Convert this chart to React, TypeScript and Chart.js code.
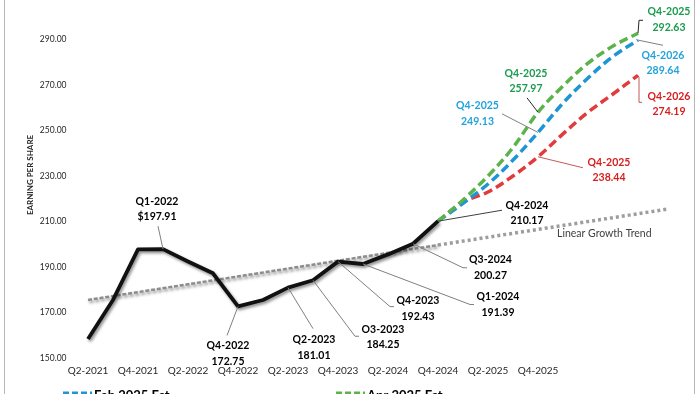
import { useEffect, useRef } from 'react';
import { Chart, registerables } from 'chart.js';

Chart.register(...registerables);

// ---- data ----
const quarters = [
  'Q2-2021', 'Q3-2021', 'Q4-2021', 'Q1-2022', 'Q2-2022', 'Q3-2022', 'Q4-2022',
  'Q1-2023', 'Q2-2023', 'Q3-2023', 'Q4-2023', 'Q1-2024', 'Q2-2024', 'Q3-2024',
  'Q4-2024', 'Q1-2025', 'Q2-2025', 'Q3-2025', 'Q4-2025', 'Q1-2026', 'Q2-2026',
  'Q3-2026', 'Q4-2026',
];
const xTickLabels = [
  'Q2-2021', 'Q4-2021', 'Q2-2022', 'Q4-2022', 'Q2-2023', 'Q4-2023', 'Q2-2024',
  'Q4-2024', 'Q2-2025', 'Q4-2025',
];
const yTicks = [150, 170, 190, 210, 230, 250, 270, 290];

const actualEps = [
  158.5, 175.6, 197.8, 197.91, 192.5, 187.3, 172.75, 175.6, 181.01, 184.25,
  192.43, 191.39, 195.6, 200.27, 210.17,
];
const forecastStart = 14; // Q4-2024
const aprEst = [210.17, 219.5, 230.0, 242.5, 257.97, 269.5, 279.5, 287.0, 292.63];
const febEst = [210.17, 218.0, 226.5, 237.0, 249.13, 262.0, 273.0, 282.5, 289.64];
const lowEst = [210.17, 218.5, 223.0, 230.0, 238.44, 248.5, 258.0, 266.0, 274.19];
const trendPos = [0, 14, 23.2];
const trendEps = [175.6, 199.7, 215.5];

// ---- styles ----
const BLACK = '#111111';
const GREEN = '#5DB34B';
const BLUE = '#1E95D5';
const RED = '#E23B3B';
const GREEN_TXT = '#1A9C4E';
const BLUE_TXT = '#22A3DA';
const RED_TXT = '#D61E1E';
const FONT = 'Lato, "Noto Sans", sans-serif';
const NARROW = '"Liberation Sans Narrow", "Arial Narrow", Lato, sans-serif';

type Series = 'actual' | 'apr' | 'feb' | 'low';
type Note = {
  series: Series;
  q: string;
  lines: string[];
  color: string;
  dx: number;
  dy: number;
  leader: [number, number][];
  leaderColor: string;
};

const notes: Note[] = [
  { series: 'actual', q: 'Q1-2022', lines: ['Q1-2022', '$197.91'], color: '#000', dx: -6, dy: -48, leader: [[-5, -23]], leaderColor: '#7f7f7f' },
  { series: 'actual', q: 'Q4-2022', lines: ['Q4-2022', '172.75'], color: '#000', dx: -10, dy: 39, leader: [[-11, 29]], leaderColor: '#7f7f7f' },
  { series: 'actual', q: 'Q2-2023', lines: ['Q2-2023', '181.01'], color: '#000', dx: 26, dy: 52, leader: [[25, 41]], leaderColor: '#7f7f7f' },
  { series: 'actual', q: 'Q3-2023', lines: ['O3-2023', '184.25'], color: '#000', dx: 70, dy: 49, leader: [[42, 56], [46, 56]], leaderColor: '#7f7f7f' },
  { series: 'actual', q: 'Q4-2023', lines: ['Q4-2023', '192.43'], color: '#000', dx: 80, dy: 39, leader: [[52, 45], [56, 45]], leaderColor: '#7f7f7f' },
  { series: 'actual', q: 'Q1-2024', lines: ['Q1-2024', '191.39'], color: '#000', dx: 135, dy: 32.5, leader: [[107, 40.5], [111, 40.5]], leaderColor: '#7f7f7f' },
  { series: 'actual', q: 'Q3-2024', lines: ['Q3-2024', '200.27'], color: '#000', dx: 77.5, dy: 16, leader: [[50, 24], [54, 24]], leaderColor: '#7f7f7f' },
  { series: 'actual', q: 'Q4-2024', lines: ['Q4-2024', '210.17'], color: '#000', dx: 89, dy: -16, leader: [[64, -11]], leaderColor: '#404040' },
  { series: 'low', q: 'Q4-2025', lines: ['Q4-2025', '238.44'], color: RED_TXT, dx: 71, dy: 5.5, leader: [[45, 11]], leaderColor: '#c05a5a' },
  { series: 'feb', q: 'Q4-2025', lines: ['Q4-2025', '249.13'], color: BLUE_TXT, dx: -60.5, dy: -26.6, leader: [[-36, -18.6]], leaderColor: '#7f7f7f' },
  { series: 'apr', q: 'Q4-2025', lines: ['Q4-2025', '257.97'], color: GREEN_TXT, dx: -12, dy: -39, leader: [[-11, -14.4]], leaderColor: '#262626' },
  { series: 'apr', q: 'Q4-2026', lines: ['Q4-2025', '292.63'], color: GREEN_TXT, dx: 31, dy: -21.7, leader: [[1, -13], [5, -13]], leaderColor: '#262626' },
  { series: 'feb', q: 'Q4-2026', lines: ['Q4-2026', '289.64'], color: BLUE_TXT, dx: 25, dy: 15.2, leader: [[25, 5.2]], leaderColor: '#7f7f7f' },
  { series: 'low', q: 'Q4-2026', lines: ['Q4-2026', '274.19'], color: RED_TXT, dx: 31, dy: 21, leader: [[1, 2], [1, 27], [4, 27]], leaderColor: '#c05a5a' },
];

const legendItems = [
  { text: 'Feb 2025 Est', color: BLUE, x: 63 },
  { text: 'Apr 2025 Est', color: GREEN, x: 336 },
];

function valueOf(series: Series, q: string): [number, number] {
  const i = quarters.indexOf(q);
  if (series === 'actual') return [i, actualEps[i]];
  const arr = series === 'apr' ? aprEst : series === 'feb' ? febEst : lowEst;
  return [i, arr[i - forecastStart]];
}

const overlayPlugin = {
  id: 'overlay',
  beforeDatasetDraw(chart: any, args: any) {
    const ds = chart.data.datasets[args.index];
    if (ds.shadow) {
      const ctx = chart.ctx;
      ctx.save();
      ctx.shadowColor = 'rgba(0,0,0,0.45)';
      ctx.shadowBlur = 3;
      ctx.shadowOffsetX = 1.5;
      ctx.shadowOffsetY = 2;
    }
  },
  afterDatasetDraw(chart: any, args: any) {
    const ds = chart.data.datasets[args.index];
    if (ds.shadow) chart.ctx.restore();
  },
  afterDraw(chart: any) {
    const ctx = chart.ctx;
    const xs = chart.scales.x;
    const ys = chart.scales.y;
    ctx.save();
    // chart outline (left/right edges)
    ctx.strokeStyle = '#b7b7b7';
    ctx.lineWidth = 1;
    ctx.beginPath();
    ctx.moveTo(4.5, 0);
    ctx.lineTo(4.5, chart.height);
    ctx.moveTo(694.5, 0);
    ctx.lineTo(694.5, chart.height);
    ctx.stroke();

    // y axis title
    ctx.save();
    ctx.translate(30, 175);
    ctx.rotate(-Math.PI / 2);
    ctx.font = `bold 8px ${FONT}`;
    ctx.fillStyle = '#262626';
    ctx.textAlign = 'center';
    ctx.textBaseline = 'middle';
    ctx.fillText('EARNING PER SHARE', 0, 0);
    ctx.restore();

    // trend label
    ctx.font = `10.5px ${FONT}`;
    ctx.fillStyle = '#404040';
    ctx.textAlign = 'left';
    ctx.textBaseline = 'middle';
    const tx = xs.getPixelForValue(trendPos[2]);
    const ty = ys.getPixelForValue(trendEps[2]);
    ctx.fillText('Linear Growth Trend', tx - 111, ty + 25);

    // data labels
    for (const n of notes) {
      const [xi, v] = valueOf(n.series, n.q);
      const px = xs.getPixelForValue(xi);
      const py = ys.getPixelForValue(v);
      ctx.strokeStyle = n.leaderColor;
      ctx.lineWidth = 1;
      ctx.beginPath();
      ctx.moveTo(px, py);
      for (const [lx, ly] of n.leader) ctx.lineTo(px + lx, py + ly);
      ctx.stroke();
      ctx.font = `bold 10.5px ${FONT}`;
      ctx.fillStyle = n.color;
      ctx.textAlign = 'center';
      ctx.textBaseline = 'middle';
      n.lines.forEach((t, k) => ctx.fillText(t, px + n.dx, py + n.dy + k * 15.7));
    }

    // legend (bottom, partly cut off)
    for (const it of legendItems) {
      ctx.strokeStyle = it.color;
      ctx.lineWidth = 3;
      ctx.setLineDash([6, 3]);
      ctx.beginPath();
      ctx.moveTo(it.x, 393);
      ctx.lineTo(it.x + 29, 393);
      ctx.stroke();
      ctx.setLineDash([]);
      ctx.font = `bold 13px ${FONT}`;
      ctx.fillStyle = '#000';
      ctx.textAlign = 'left';
      ctx.textBaseline = 'alphabetic';
      ctx.fillText(it.text, it.x + 31, 400);
    }
    ctx.restore();
  },
};

export default function App() {
  const ref = useRef<HTMLCanvasElement | null>(null);

  useEffect(() => {
    if (!ref.current) return;
    const fc = (arr: number[]) => arr.map((v, k) => ({ x: forecastStart + k, y: v }));
    const chart = new Chart(ref.current, {
      type: 'line',
      data: {
        datasets: [
          {
            label: 'EPS',
            data: actualEps.map((v, i) => ({ x: i, y: v })),
            borderColor: BLACK,
            borderWidth: 3.8,
            borderJoinStyle: 'round',
            tension: 0,
            pointRadius: 0,
            shadow: true,
          } as any,
          {
            label: 'Apr 2025 Est',
            data: fc(aprEst),
            borderColor: GREEN,
            borderWidth: 3.5,
            borderDash: [9, 4.5],
            tension: 0.35,
            pointRadius: 0,
          },
          {
            label: 'Feb 2025 Est',
            data: fc(febEst),
            borderColor: BLUE,
            borderWidth: 3.5,
            borderDash: [9, 4.5],
            tension: 0.35,
            pointRadius: 0,
          },
          {
            label: 'Low Est',
            data: fc(lowEst),
            borderColor: RED,
            borderWidth: 3.5,
            borderDash: [9, 4.5],
            tension: 0.35,
            pointRadius: 0,
          },
          {
            label: 'Trend',
            data: trendPos.slice(0, 2).map((x, i) => ({ x, y: trendEps[i] })),
            borderColor: '#8c8c8c',
            borderWidth: 2.5,
            borderDash: [4, 1.8],
            pointRadius: 0,
            shadow: true,
          } as any,
          {
            label: 'Trend ext',
            data: trendPos.slice(1).map((x, i) => ({ x, y: trendEps[i + 1] })),
            borderColor: '#9d9d9d',
            borderWidth: 3.5,
            borderDash: [3, 3],
            pointRadius: 0,
          },
        ],
      },
      options: {
        animation: false,
        responsive: false,
        layout: { padding: { top: 16.5, right: 24.5, left: 0, bottom: 0 } },
        plugins: { legend: { display: false }, tooltip: { enabled: false } },
        scales: {
          x: {
            type: 'linear',
            min: -0.5,
            max: 23.5,
            grid: { display: false, drawTicks: false },
            border: { display: false },
            afterBuildTicks: (s: any) => {
              s.ticks = xTickLabels.map((l) => ({ value: quarters.indexOf(l) }));
            },
            afterFit: (s: any) => {
              s.height = 35.7;
            },
            ticks: {
              padding: 6,
              maxRotation: 0,
              autoSkip: false,
              color: '#262626',
              font: { family: NARROW, size: 10 },
              callback: (v: any) => quarters[v as number],
            },
          },
          y: {
            type: 'linear',
            min: 150,
            max: 300,
            grid: { display: false, drawTicks: false },
            border: { display: false },
            afterBuildTicks: (s: any) => {
              s.ticks = yTicks.map((v) => ({ value: v }));
            },
            afterFit: (s: any) => {
              s.width = 75.5;
            },
            ticks: {
              padding: 9,
              color: '#262626',
              font: { family: FONT, size: 8.5 },
              callback: (v: any) => Number(v).toFixed(2),
            },
          },
        },
      },
      plugins: [overlayPlugin],
    });
    return () => chart.destroy();
  }, []);

  return (
    <div style={{ position: 'absolute', left: 0, top: 0, width: 700, height: 394, background: '#fff' }}>
      <canvas ref={ref} width={700} height={394} style={{ display: 'block' }} />
    </div>
  );
}
